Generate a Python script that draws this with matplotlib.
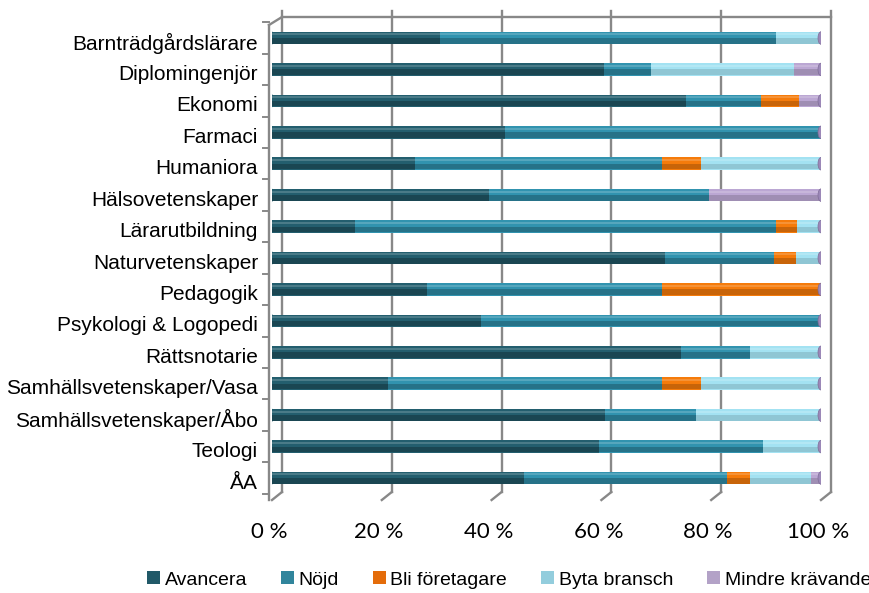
import matplotlib
matplotlib.use('Agg')
import matplotlib.pyplot as plt
import matplotlib.transforms as mtransforms
from matplotlib.patches import Patch, Ellipse
import numpy as np


#%% Data (percent of respondents per programme)

categories = [
    'Barnträdgårdslärare', 'Diplomingenjör', 'Ekonomi', 'Farmaci',
    'Humaniora', 'Hälsovetenskaper', 'Lärarutbildning', 'Naturvetenskaper',
    'Pedagogik', 'Psykologi & Logopedi', 'Rättsnotarie',
    'Samhällsvetenskaper/Vasa', 'Samhällsvetenskaper/Åbo', 'Teologi', 'ÅA']

series_names = ['Avancera', 'Nöjd', 'Bli företagare', 'Byta bransch',
                'Mindre krävande']

avancera = [30.6, 60.4, 75.4, 42.5, 26.0, 39.6, 15.2, 71.6, 28.3, 38.1,
            74.5, 21.2, 60.7, 59.5, 45.9]
nojd = [61.2, 8.7, 13.7, 57.5, 45.0, 40.0, 76.6, 19.8, 42.7, 61.9,
        12.5, 49.8, 16.5, 30.0, 37.0]
foretagare = [0, 0, 6.9, 0, 7.1, 0, 3.8, 4.1, 29.0, 0,
              0, 7.1, 0, 0, 4.2]
byta = [8.2, 26.0, 0, 0, 21.9, 0, 4.4, 4.5, 0, 0,
        13.0, 21.9, 22.8, 10.5, 11.0]
mindre = [0, 4.9, 4.0, 0, 0, 20.4, 0, 0, 0, 0,
          0, 0, 0, 0, 1.9]

xticks = [0, 20, 40, 60, 80, 100]
xtick_labels = ['0 %', '20 %', '40 %', '60 %', '80 %', '100 %']

legend_colors = ['#215968', '#31859C', '#E46C0A', '#93CDDD', '#B3A2C7']
bar_colors = ['#235E6E', '#3193AF', '#F57B0B', '#A3E2F2', '#BBA7D3']
shade_alpha = [0.25, 0.22, 0.18, 0.12, 0.15]


#%% Figure

fig = plt.figure(figsize=(8.7, 5.93), dpi=100)
W, H = 870, 593
ax = fig.add_axes([272 / W, 1 - 500 / H, 549 / W, 475 / H])

n = len(categories)
y = np.arange(n)
h = 0.40
values = [avancera, nojd, foretagare, byta, mindre]
ybot, ytop = n - 1 + 0.70, -0.414

left = np.zeros(n)
for vals, col, a in zip(values, bar_colors, shade_alpha):
    vals = np.array(vals, dtype=float)
    ax.barh(y, vals, height=h, left=left, color=col, linewidth=0, zorder=3)
    # darker lower half and light highlight for a cylinder look
    ax.barh(y + h * 0.22, vals, height=h * 0.44, left=left, color='black',
            alpha=a, linewidth=0, zorder=4)
    ax.barh(y - h * 0.28, vals, height=h * 0.16, left=left, color='white',
            alpha=0.18, linewidth=0, zorder=4)
    left += vals

# end caps
cap_w = 6 / 549 * 100
for yi in y:
    ax.add_patch(Ellipse((100, yi), cap_w, h, facecolor='#9C88B8',
                         edgecolor='#7f6d99', lw=0.5, zorder=5))
    ax.add_patch(Ellipse((0, yi), cap_w, h, facecolor='#1E5564',
                         edgecolor='none', zorder=2))

ax.set_xlim(0, 100)
ax.set_ylim(ybot, ytop)

# back wall (offset to fake 3D depth)
back = mtransforms.offset_copy(ax.transData, fig=fig, x=10, y=8, units='dots')
grid_col = '#888888'
for g in xticks:
    ax.plot([g, g], [ybot, ytop - 0.2], color=grid_col, lw=1.7,
            transform=back, zorder=1, clip_on=False)
    # floor depth ticks
    p0 = ax.transData.transform((g, ybot))
    p1 = back.transform((g, ybot))
    fig.add_artist(plt.Line2D([p0[0] / W, p1[0] / W], [p0[1] / H, p1[1] / H],
                              color=grid_col, lw=1.7))
ax.plot([0, 100], [ytop, ytop], color=grid_col, lw=1.7,
        transform=back, zorder=1, clip_on=False)

# left wall front edge and top connector
front = mtransforms.offset_copy(ax.transData, fig=fig, x=-3, y=0, units='dots')
ax.plot([0, 0], [ybot, ytop], color=grid_col, lw=1.7,
        transform=front, zorder=1, clip_on=False)
p0 = front.transform((0, ytop))
p1 = back.transform((0, ytop))
fig.add_artist(plt.Line2D([p0[0] / W, p1[0] / W], [p0[1] / H, p1[1] / H],
                          color=grid_col, lw=1.7))
for b in np.arange(-0.5, n, 1.0):
    p0 = front.transform((0, b))
    fig.add_artist(plt.Line2D([p0[0] / W - 6 / W, p0[0] / W],
                              [p0[1] / H, p0[1] / H], color=grid_col, lw=1.4))

for s in ax.spines.values():
    s.set_visible(False)

ax.set_yticks(y)
ax.set_yticklabels(categories, fontsize=15, family='Liberation Sans')
ax.tick_params(axis='y', length=0, pad=10)
ax.set_xticks(xticks)
ax.set_xticklabels(xtick_labels, fontsize=16, family='Lato')
ax.tick_params(axis='x', length=0, pad=16)

shift_y = mtransforms.ScaledTranslation(0, -0.03, fig.dpi_scale_trans)
for lab in ax.get_yticklabels():
    lab.set_transform(lab.get_transform() + shift_y)
shift_x = mtransforms.ScaledTranslation(-0.03, 0, fig.dpi_scale_trans)
for lab in ax.get_xticklabels():
    lab.set_transform(lab.get_transform() + shift_x)

handles = [Patch(facecolor=c, edgecolor='none') for c in legend_colors]
fig.legend(handles, series_names, loc='center', ncol=5,
           bbox_to_anchor=(509 / W, 1 - 580 / H), frameon=False,
           prop={'family': 'Liberation Sans', 'size': 14},
           handlelength=0.65, handleheight=0.65, handletextpad=0.25,
           columnspacing=1.75, borderpad=0)

fig.savefig('out.png', dpi=100)
